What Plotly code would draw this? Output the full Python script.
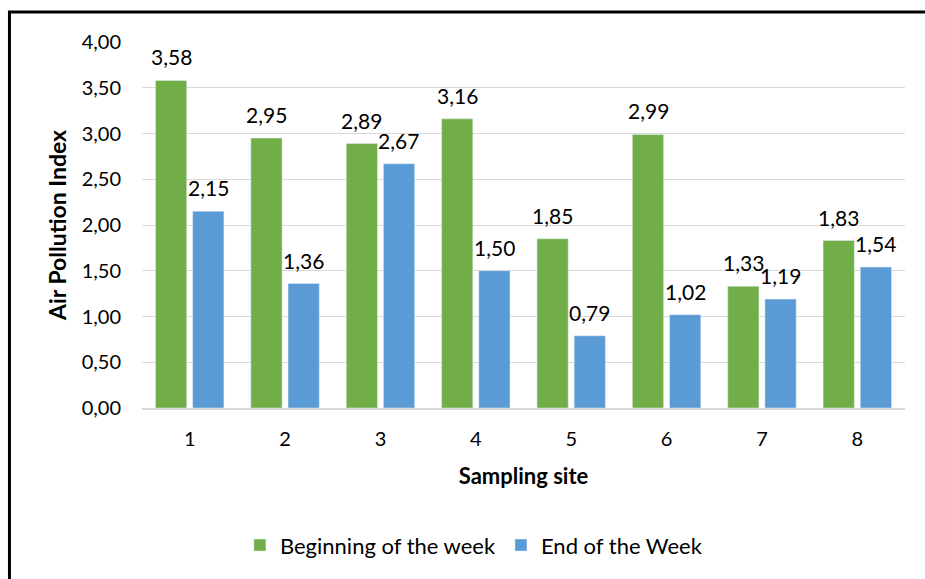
import plotly.graph_objects as go

sites = ["1", "2", "3", "4", "5", "6", "7", "8"]
beginning = [3.58, 2.95, 2.89, 3.16, 1.85, 2.99, 1.33, 1.83]
end_week = [2.15, 1.36, 2.67, 1.50, 0.79, 1.02, 1.19, 1.54]
y_ticks = [0, 0.5, 1.0, 1.5, 2.0, 2.5, 3.0, 3.5, 4.0]

FONT = "Lato"

def fmt(v):
    return f"{v:.2f}".replace(".", ",")

fig = go.Figure()
fig.add_trace(go.Bar(
    x=sites, y=beginning, name="Beginning of the week",
    marker=dict(color="#72AE48"),
))
fig.add_trace(go.Bar(
    x=sites, y=end_week, name="End of the Week",
    marker=dict(color="#5B9BD5"),
))

annotations = []
for i, v in enumerate(beginning):
    annotations.append(dict(x=i, y=v, xref="x", yref="y", text=fmt(v), showarrow=False,
                            xanchor="center", yanchor="bottom", xshift=-18.5, yshift=9,
                            font=dict(family=FONT, size=21, color="#000000")))
for i, v in enumerate(end_week):
    annotations.append(dict(x=i, y=v, xref="x", yref="y", text=fmt(v), showarrow=False,
                            xanchor="center", yanchor="bottom", xshift=18.5, yshift=9,
                            font=dict(family=FONT, size=21, color="#000000")))

fig.update_layout(
    width=925, height=579,
    margin=dict(l=142, r=20, t=42, b=171),
    paper_bgcolor="white", plot_bgcolor="white",
    barmode="group", bargap=0.22, bargroupgap=0.16,
    font=dict(family=FONT, size=20, color="#000000"),
    showlegend=True,
    legend=dict(orientation="h", x=0.435, xanchor="center", y=-0.375, yanchor="middle",
                font=dict(family=FONT, size=22), traceorder="normal"),
    xaxis=dict(
        title=dict(text="<b>Sampling site</b>", font=dict(family=FONT, size=22), standoff=20),
        showline=True, linecolor="#D9D9D9", linewidth=1.5, ticks="",
        tickfont=dict(family=FONT, size=20), ticklabelstandoff=12,
        range=[-0.5, 7.5],
    ),
    yaxis=dict(
        title=dict(text="<b>Air Pollution Index</b>", font=dict(family=FONT, size=23), standoff=8),
        range=[0, 4.0], tickvals=y_ticks, ticktext=[fmt(v) for v in y_ticks],
        showgrid=True, gridcolor="#D9D9D9", gridwidth=1, zeroline=False,
        tickfont=dict(family=FONT, size=20), ticks="", ticklabelstandoff=20,
    ),
    annotations=annotations,
    shapes=[dict(type="rect", xref="paper", yref="paper",
                 x0=-0.1737, x1=1.2, y0=-0.8, y1=1.082,
                 line=dict(color="black", width=3), fillcolor="rgba(0,0,0,0)", layer="above")],
)

fig.write_html("out.html", config={"displayModeBar": False},
               post_script="document.body.style.margin='0';document.body.style.overflow='hidden';")
